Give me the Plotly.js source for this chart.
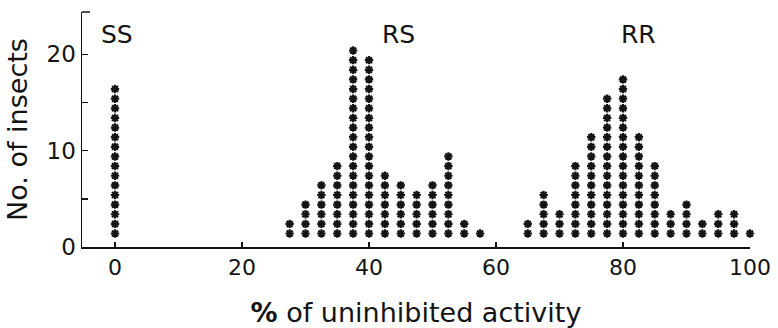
<!DOCTYPE html>
<html>
<head>
<meta charset="utf-8">
<script src="https://cdn.plot.ly/plotly-3.0.1.min.js"></script>
<style>
  html, body { margin: 0; padding: 0; background: #fff; }
  #chart { width: 778px; height: 328px; }
</style>
</head>
<body>
<div id="chart"></div>
<script>
// ---- data ----
const groupLabels = ['SS', 'RS', 'RR'];

const ssBins   = [0];
const ssCounts = [16];

const rsBins   = [27.5, 30, 32.5, 35, 37.5, 40, 42.5, 45, 47.5, 50, 52.5, 55, 57.5];
const rsCounts = [2, 4, 6, 8, 20, 19, 7, 6, 5, 6, 9, 2, 1];

const rrBins   = [65, 67.5, 70, 72.5, 75, 77.5, 80, 82.5, 85, 87.5, 90, 92.5, 95, 97.5, 100];
const rrCounts = [2, 5, 3, 8, 11, 15, 17, 11, 8, 3, 4, 2, 3, 3, 1];

const xTickVals = [0, 20, 40, 60, 80, 100];
const yTickVals = [0, 5, 10, 15, 20];
const yTickText = ['0', '', '10', '', '20'];

// ---- build stacked asterisk columns (one mark per insect) ----
const STACK_OFFSET = 0.4; // visual baseline lift of the stacked symbols
function expand(bins, counts) {
  const xs = [], ys = [];
  bins.forEach((b, i) => {
    for (let k = 1; k <= counts[i]; k++) { xs.push(b); ys.push(k + STACK_OFFSET); }
  });
  return {xs, ys};
}

const font = 'DejaVu Sans, Liberation Sans, Arial, sans-serif';
const ink = '#141414';

const groups = [[ssBins, ssCounts], [rsBins, rsCounts], [rrBins, rrCounts]];
const traces = groups.map((g, i) => {
  const e = expand(g[0], g[1]);
  return {
    type: 'scatter', mode: 'markers', name: groupLabels[i],
    x: e.xs, y: e.ys, cliponaxis: false, hoverinfo: 'x+y',
    marker: { symbol: 'asterisk-open', size: 7, color: ink, line: { color: ink, width: 2.2 } }
  };
});

const labelX = [0.3, 44.6, 82.4];
const annotations = groupLabels.map((t, i) => ({
  x: labelX[i], y: 22.1, xref: 'x', yref: 'y', text: t, showarrow: false,
  font: { family: font, size: 25, color: ink }
}));

const layout = {
  width: 778, height: 328,
  margin: { l: 82, r: 28, t: 12, b: 81, pad: 0 },
  paper_bgcolor: '#fff', plot_bgcolor: '#fff',
  showlegend: false,
  font: { family: font, color: ink },
  xaxis: {
    range: [-5.2, 100], showgrid: false, zeroline: false,
    showline: true, linecolor: ink, linewidth: 1.5,
    ticks: 'inside', ticklen: 5, tickwidth: 1.5, tickcolor: ink,
    tickvals: xTickVals, tickfont: { family: font, size: 22, color: ink },
    title: { text: '<b>%</b> of uninhibited activity', font: { family: font, size: 27, color: ink }, standoff: 24 }
  },
  yaxis: {
    range: [0, 24.4], showgrid: false, zeroline: false,
    showline: true, linecolor: ink, linewidth: 1.5,
    ticks: 'inside', ticklen: 6, tickwidth: 1.5, tickcolor: ink,
    tickvals: yTickVals, ticktext: yTickText,
    tickfont: { family: font, size: 23, color: ink },
    title: { text: 'No. of insects', font: { family: font, size: 27, color: ink }, standoff: 11 }
  },
  shapes: [{
    type: 'line', xref: 'paper', yref: 'paper', x0: 0, x1: 0.012, y0: 1, y1: 1,
    line: { color: ink, width: 1.5 }
  }],
  annotations: annotations
};

Plotly.newPlot('chart', traces, layout, { displayModeBar: false, staticPlot: true });
</script>
</body>
</html>
